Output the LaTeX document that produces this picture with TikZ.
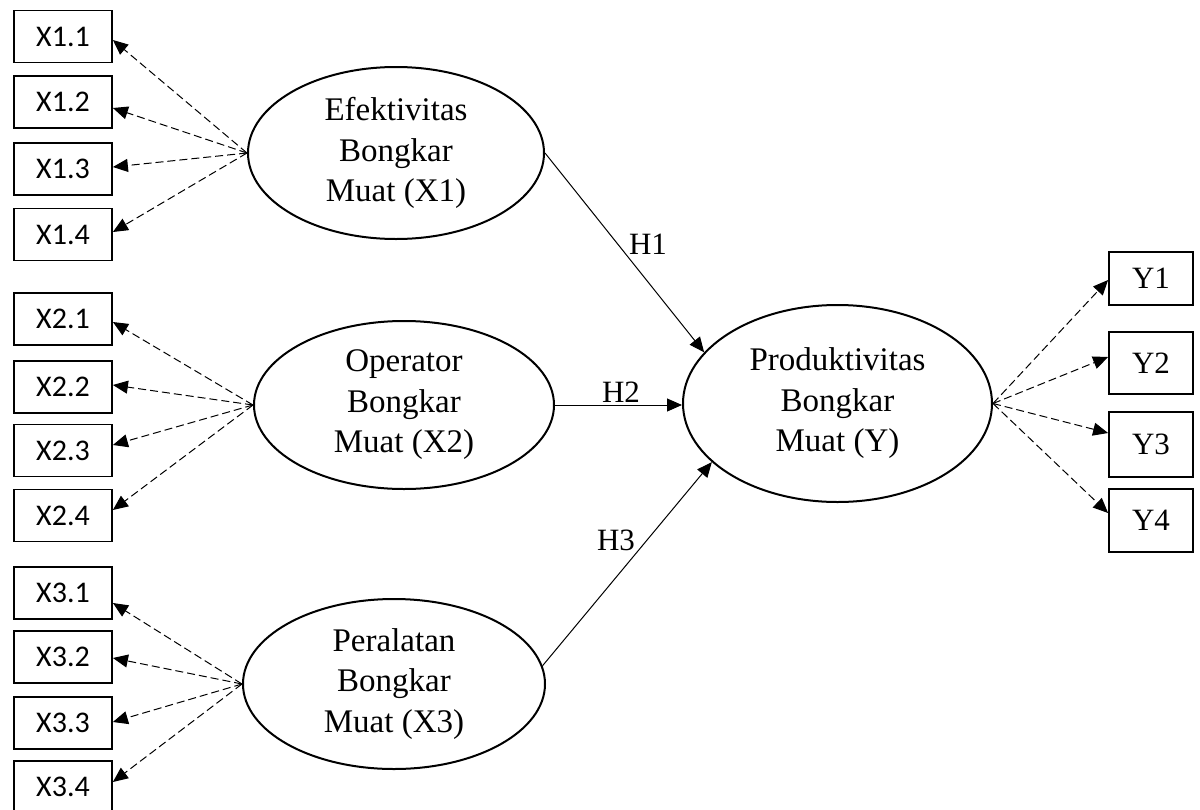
\documentclass[tikz,border=0pt]{standalone}
\usepackage{fontspec}
\setmainfont{Liberation Serif}
\newfontfamily\calfont{Carlito}
\usetikzlibrary{shapes.geometric,arrows.meta}
\begin{document}
\begin{tikzpicture}[x=1pt,y=-1pt,
  xbox/.style={draw,line width=1.8pt,minimum width=98pt,minimum height=52pt,inner sep=0pt,font=\calfont\fontsize{30}{34}\selectfont},
  ybox/.style={draw,line width=1.8pt,minimum width=84pt,inner sep=0pt,font=\fontsize{31}{34}\selectfont},
  latent/.style={draw,ellipse,line width=2pt,inner sep=0pt,align=center,font=\fontsize{33}{40.5}\selectfont},
  load/.style={dashed,dash pattern=on 8pt off 4pt,line width=1pt,-{Triangle[length=15pt,width=13pt]}},
  path/.style={line width=1pt,-{Triangle[length=15pt,width=13pt]}},
  hlab/.style={font=\fontsize{31}{34}\selectfont,inner sep=0pt}]
\useasboundingbox (0,0) rectangle (1200,809);
% indicator boxes
\node[xbox] (x11) at (63,36.5) {X1.1};
\node[xbox] (x12) at (63,102) {X1.2};
\node[xbox] (x13) at (63,169) {X1.3};
\node[xbox] (x14) at (63,234.5) {X1.4};
\node[xbox] (x21) at (63,319) {X2.1};
\node[xbox] (x22) at (63,387) {X2.2};
\node[xbox] (x23) at (63,450.5) {X2.3};
\node[xbox] (x24) at (63,515.5) {X2.4};
\node[xbox] (x31) at (63,593) {X3.1};
\node[xbox] (x32) at (63,657) {X3.2};
\node[xbox] (x33) at (63,723) {X3.3};
\node[xbox] (x34) at (63,787) {X3.4};
\node[ybox,minimum height=53pt] (y1) at (1151,278.5) {Y1};
\node[ybox,minimum height=62pt] (y2) at (1151,363) {Y2};
\node[ybox,minimum height=65pt] (y3) at (1151,444.5) {Y3};
\node[ybox,minimum height=63pt] (y4) at (1151,520.5) {Y4};
% latent variables
\node[latent,minimum width=296pt,minimum height=172pt] (e1) at (396,153) {Efektivitas\\Bongkar\\Muat (X1)};
\node[latent,minimum width=300pt,minimum height=168pt] (e2) at (404,405) {Operator\\Bongkar\\Muat (X2)};
\node[latent,minimum width=302pt,minimum height=170pt] (e3) at (394,684) {Peralatan\\Bongkar\\Muat (X3)};
\node[latent,minimum width=309pt,minimum height=197pt] (ey) at (837.5,403.5) {Produktivitas\\Bongkar\\Muat (Y)};
% loadings
\draw[load] (e1.west) -- ([yshift=-3.5pt]x11.east);
\draw[load] (e1.west) -- ([yshift=-6pt]x12.east);
\draw[load] (e1.west) -- ([yshift=2pt]x13.east);
\draw[load] (e1.west) -- ([yshift=2.5pt]x14.east);
\draw[load] (e2.west) -- ([yshift=-3pt]x21.east);
\draw[load] (e2.west) -- ([yshift=2pt]x22.east);
\draw[load] (e2.west) -- ([yshift=5.5pt]x23.east);
\draw[load] (e2.west) -- ([yshift=5.5pt]x24.east);
\draw[load] (e3.west) -- ([yshift=-10pt]x31.east);
\draw[load] (e3.west) -- ([yshift=-1pt]x32.east);
\draw[load] (e3.west) -- ([yshift=1pt]x33.east);
\draw[load] (e3.west) -- ([yshift=5pt]x34.east);
\draw[load] (ey.east) -- ([yshift=-1.5pt]y1.west);
\draw[load] (ey.east) -- ([yshift=6pt]y2.west);
\draw[load] (ey.east) -- ([yshift=11.5pt]y3.west);
\draw[load] (ey.east) -- ([yshift=7.5pt]y4.west);
% structural paths
\draw[path] (e1.east) -- (ey.159.6);
\draw[path] (e2.east) -- (e2.east -| ey.west);
\draw[path] (e3.7) -- (ey.205);
\node[hlab] (h1) at (648,244) {H1};
\node[hlab] (h2) at (621,392) {H2};
\node[hlab] (h3) at (616,540) {H3};
\end{tikzpicture}
\end{document}
